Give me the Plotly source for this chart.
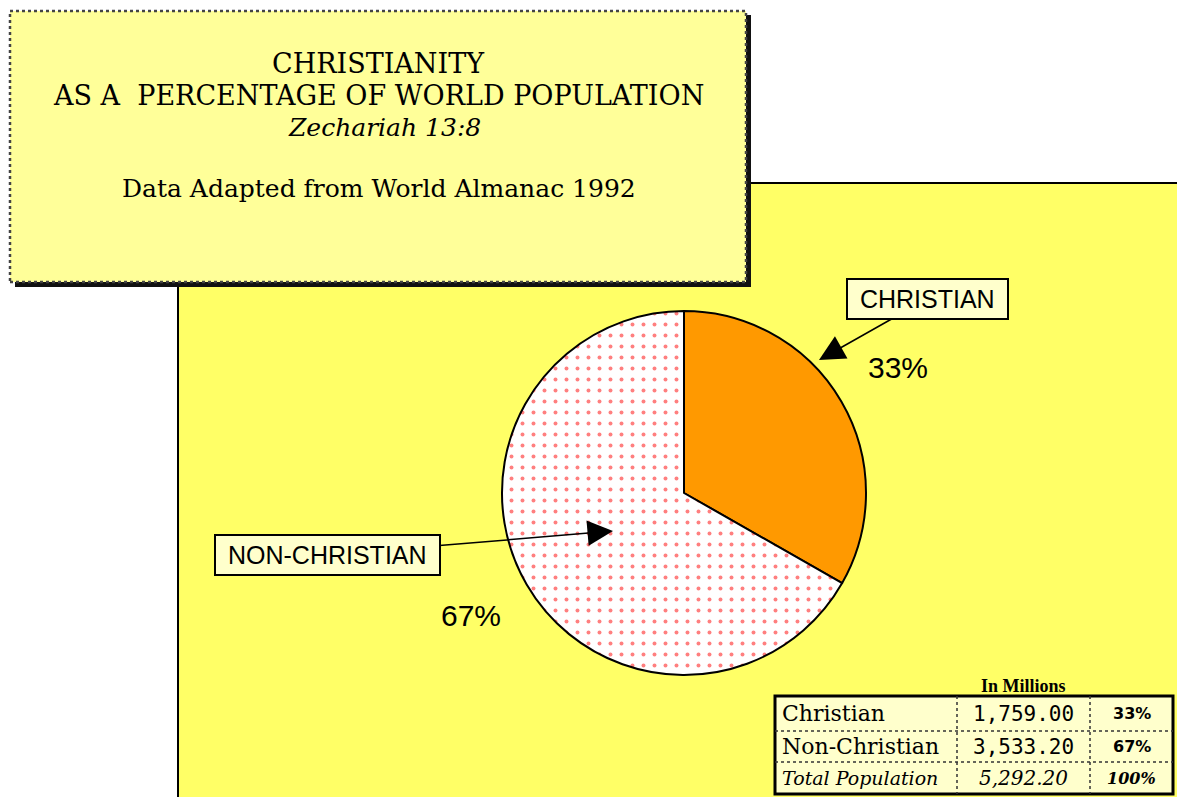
import plotly.graph_objects as go

# ---------------- data ----------------
categories = ["Christian", "Non-Christian"]
label_texts = ["CHRISTIAN", "NON-CHRISTIAN"]
values_millions = [1759.00, 3533.20]
total_label = "Total Population"
table_caption = "In Millions"
title_lines = ["CHRISTIANITY", "AS A  PERCENTAGE OF WORLD POPULATION"]
subtitle = "Zechariah 13:8"
source_line = "Data Adapted from World Almanac 1992"

total = sum(values_millions)
percents = [round(v / total * 100) for v in values_millions]

W, H = 1177, 797


def px(x):
    return x / W


def py(y):
    return 1 - y / H


fig = go.Figure()

# pie: centre (684, 493), radius ~182 px
cx, cy, r = 684, 493, 182
fig.add_trace(go.Pie(
    labels=categories,
    values=values_millions,
    sort=False,
    direction="clockwise",
    rotation=0,
    textinfo="none",
    hoverinfo="label+value+percent",
    showlegend=False,
    domain=dict(x=[px(cx - r), px(cx + r)], y=[py(cy + r), py(cy - r)]),
    marker=dict(
        colors=["#FF9900", "#FFFFFF"],
        line=dict(color="black", width=2),
        pattern=dict(shape=["", "."], fgcolor="#FF0000", bgcolor="#FFFFFF",
                     size=11, solidity=0.1, fillmode="overlay"),
    ),
))

shapes = []
# yellow panel
shapes.append(dict(type="rect", xref="paper", yref="paper",
                   x0=px(178), x1=px(1185), y0=py(805), y1=py(183),
                   fillcolor="#FFFF66", line=dict(color="black", width=2), layer="below"))
# title box shadow
shapes.append(dict(type="rect", xref="paper", yref="paper",
                   x0=px(15), x1=px(751), y0=py(287), y1=py(15),
                   fillcolor="#111111", line=dict(width=0), layer="below"))
# title box
shapes.append(dict(type="rect", xref="paper", yref="paper",
                   x0=px(10), x1=px(746), y0=py(282), y1=py(11),
                   fillcolor="#FFFF99", line=dict(color="#444444", width=2.5, dash="dot"),
                   layer="below"))
# data table box
tx0, tx1, ty0, ty1 = 775, 1173, 696, 794
row_edges = [696, 731, 762, 794]
col_edges = [775, 957, 1090, 1173]
shapes.append(dict(type="rect", xref="paper", yref="paper",
                   x0=px(tx0), x1=px(tx1), y0=py(ty1), y1=py(ty0),
                   fillcolor="#FFFFCC", line=dict(color="black", width=3), layer="below"))
for yy in row_edges[1:-1]:
    shapes.append(dict(type="line", xref="paper", yref="paper",
                       x0=px(tx0), x1=px(tx1), y0=py(yy), y1=py(yy),
                       line=dict(color="#333333", width=1.5, dash="dot")))
for xx in col_edges[1:-1]:
    shapes.append(dict(type="line", xref="paper", yref="paper",
                       x0=px(xx), x1=px(xx), y0=py(ty0), y1=py(ty1),
                       line=dict(color="#333333", width=1.5, dash="dot")))

annotations = []
serif = "DejaVu Serif"
sans = "Liberation Sans"

# title text
for txt, yy in zip(title_lines, [63, 95]):
    annotations.append(dict(text=txt, x=px(378), y=py(yy), xref="paper", yref="paper",
                            showarrow=False, xanchor="center", yanchor="middle",
                            font=dict(family=serif, size=27, color="black")))
annotations.append(dict(text="<i>" + subtitle + "</i>", x=px(384), y=py(128), xref="paper",
                        yref="paper", showarrow=False, xanchor="center", yanchor="middle",
                        font=dict(family=serif, size=25, color="black")))
annotations.append(dict(text=source_line, x=px(379), y=py(189), xref="paper", yref="paper",
                        showarrow=False, xanchor="center", yanchor="middle",
                        font=dict(family=serif, size=25, color="black")))

# callout labels with arrows (tip, box centre)
tips = [(819, 360), (613, 531)]
boxes = [(927, 299), (327, 555)]
for lab, (tx, ty), (bx, by) in zip(label_texts, tips, boxes):
    annotations.append(dict(text="\u00a0" + lab + "\u00a0", x=px(tx), y=py(ty),
                            xref="paper", yref="paper",
                            ax=bx - tx, ay=by - ty, showarrow=True,
                            arrowhead=2, arrowsize=3.4, arrowwidth=1.5, arrowcolor="black",
                            bgcolor="#FFFFCC", bordercolor="black", borderwidth=2,
                            borderpad=5,
                            font=dict(family=sans, size=25, color="black")))

# percentage labels
pct_pos = [(898, 367), (471, 615)]
for p, (xx, yy) in zip(percents, pct_pos):
    annotations.append(dict(text=f"{p}%", x=px(xx), y=py(yy), xref="paper", yref="paper",
                            showarrow=False, xanchor="center", yanchor="middle",
                            font=dict(family=sans, size=30, color="black")))

# table caption
annotations.append(dict(text="<b>" + table_caption + "</b>", x=px(1023), y=py(686),
                        xref="paper", yref="paper", showarrow=False,
                        xanchor="center", yanchor="middle",
                        font=dict(family="Liberation Serif", size=18, color="black")))

row_centres = [(row_edges[i] + row_edges[i + 1]) / 2 for i in range(3)]
c2 = (col_edges[1] + col_edges[2]) / 2
c3 = (col_edges[2] + col_edges[3]) / 2
for i, (cat, v, p) in enumerate(zip(categories, values_millions, percents)):
    yy = row_centres[i]
    annotations.append(dict(text=cat, x=px(780), y=py(yy), xref="paper", yref="paper",
                            showarrow=False, xanchor="left", yanchor="middle",
                            font=dict(family="DejaVu Serif", size=22, color="black")))
    annotations.append(dict(text=f"{v:,.2f}", x=px(c2), y=py(yy), xref="paper", yref="paper",
                            showarrow=False, xanchor="center", yanchor="middle",
                            font=dict(family="DejaVu Sans Mono", size=21, color="black")))
    annotations.append(dict(text=f"<b>{p}%</b>", x=px(c3), y=py(yy), xref="paper", yref="paper",
                            showarrow=False, xanchor="center", yanchor="middle",
                            font=dict(family="DejaVu Sans", size=16, color="black")))
yy = row_centres[2]
annotations.append(dict(text=f"<i>{total_label}</i>", x=px(780), y=py(yy), xref="paper",
                        yref="paper", showarrow=False, xanchor="left", yanchor="middle",
                        font=dict(family="DejaVu Serif", size=19, color="black")))
annotations.append(dict(text=f"<i>{total:,.2f}</i>", x=px(c2), y=py(yy), xref="paper",
                        yref="paper", showarrow=False, xanchor="center", yanchor="middle",
                        font=dict(family="DejaVu Serif", size=20, color="black")))
annotations.append(dict(text=f"<i><b>{sum(percents)}%</b></i>", x=px(c3), y=py(yy),
                        xref="paper", yref="paper", showarrow=False,
                        xanchor="center", yanchor="middle",
                        font=dict(family="DejaVu Serif", size=16, color="black")))

fig.update_layout(
    width=W, height=H,
    margin=dict(l=0, r=0, t=0, b=0),
    paper_bgcolor="white",
    plot_bgcolor="white",
    shapes=shapes,
    annotations=annotations,
    showlegend=False,
)

fig.write_html("out.html", config={"displayModeBar": False},
               post_script="document.body.style.margin='0px';"
                           "document.body.style.overflow='hidden';")
